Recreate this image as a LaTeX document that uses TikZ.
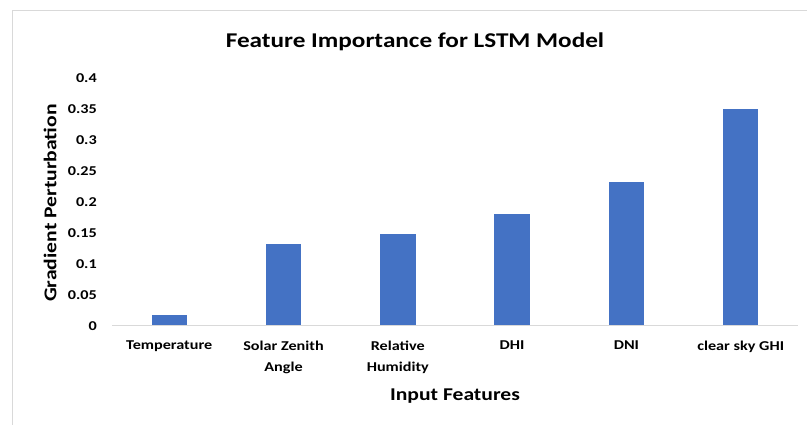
\documentclass[tikz,border=0pt]{standalone}
\usepackage{fontspec}
\setmainfont{Carlito}
\usetikzlibrary{positioning}
\definecolor{barblue}{HTML}{4472C4}
\definecolor{framegray}{HTML}{D9D9D9}
\tikzset{
  bar/.style={fill=barblue},
  wide/.style={xscale=1.2, transform shape},
  ticklabel/.style={wide, anchor=east, font=\fontsize{13.5}{15}\selectfont\bfseries, inner sep=0pt},
  catlabel/.style={wide, anchor=north, align=center, font=\fontsize{13.5}{20.5}\selectfont\bfseries, inner sep=0pt},
  axistitle/.style={font=\fontsize{18}{20}\selectfont\bfseries, inner sep=0pt}
}
\begin{document}
\begin{tikzpicture}[x=1pt, y=-1pt]
  \useasboundingbox (0,0) rectangle (807,424);
  \clip (0,0) rectangle (807,424);
  % chart frame
  \draw[framegray] (12.5,430) |- (812,10.5);
  \node[wide, font=\fontsize{21}{24}\selectfont\bfseries, inner sep=0pt] (title) at (415,42) {Feature Importance for LSTM Model};
  % value axis, 0 to 0.4
  \foreach \v/\t in {0/0, 0.05/0.05, 0.1/0.1, 0.15/0.15, 0.2/0.2, 0.25/0.25, 0.3/0.3, 0.35/0.35, 0.4/0.4}
    \node[ticklabel] at (97,{325.7-\v*619.2}) {\t};
  \node[axistitle, rotate=90, wide] (ytitle) at (50,203) {Gradient Perturbation};
  % bars
  \foreach \c/\v [count=\i] in {169.2/0.018, 283.5/0.132, 397.8/0.148, 512.0/0.180, 626.4/0.232, 740.7/0.350}
    \fill[bar] (\c-17.7,325.7) rectangle (\c+17.7,{325.7-\v*619.2});
  \coordinate (xstart) at (112,325.7);
  \coordinate (xend) at (798,325.7);
  \draw[framegray, line width=1pt] (xstart) -- (xend);
  % categories
  \node[catlabel] (c1) at (169.2,341) {Temperature};
  \node[catlabel] (c2) at (283.5,341) {Solar Zenith\\Angle};
  \node[catlabel] (c3) at (397.8,341) {Relative\\Humidity};
  \node[catlabel] (c4) at (512.0,341) {DHI};
  \node[catlabel] (c5) at (626.4,341) {DNI};
  \node[catlabel] (c6) at (740.7,341) {clear sky GHI};
  \node[axistitle, wide] (xtitle) at (455,396) {Input Features};
\end{tikzpicture}
\end{document}
